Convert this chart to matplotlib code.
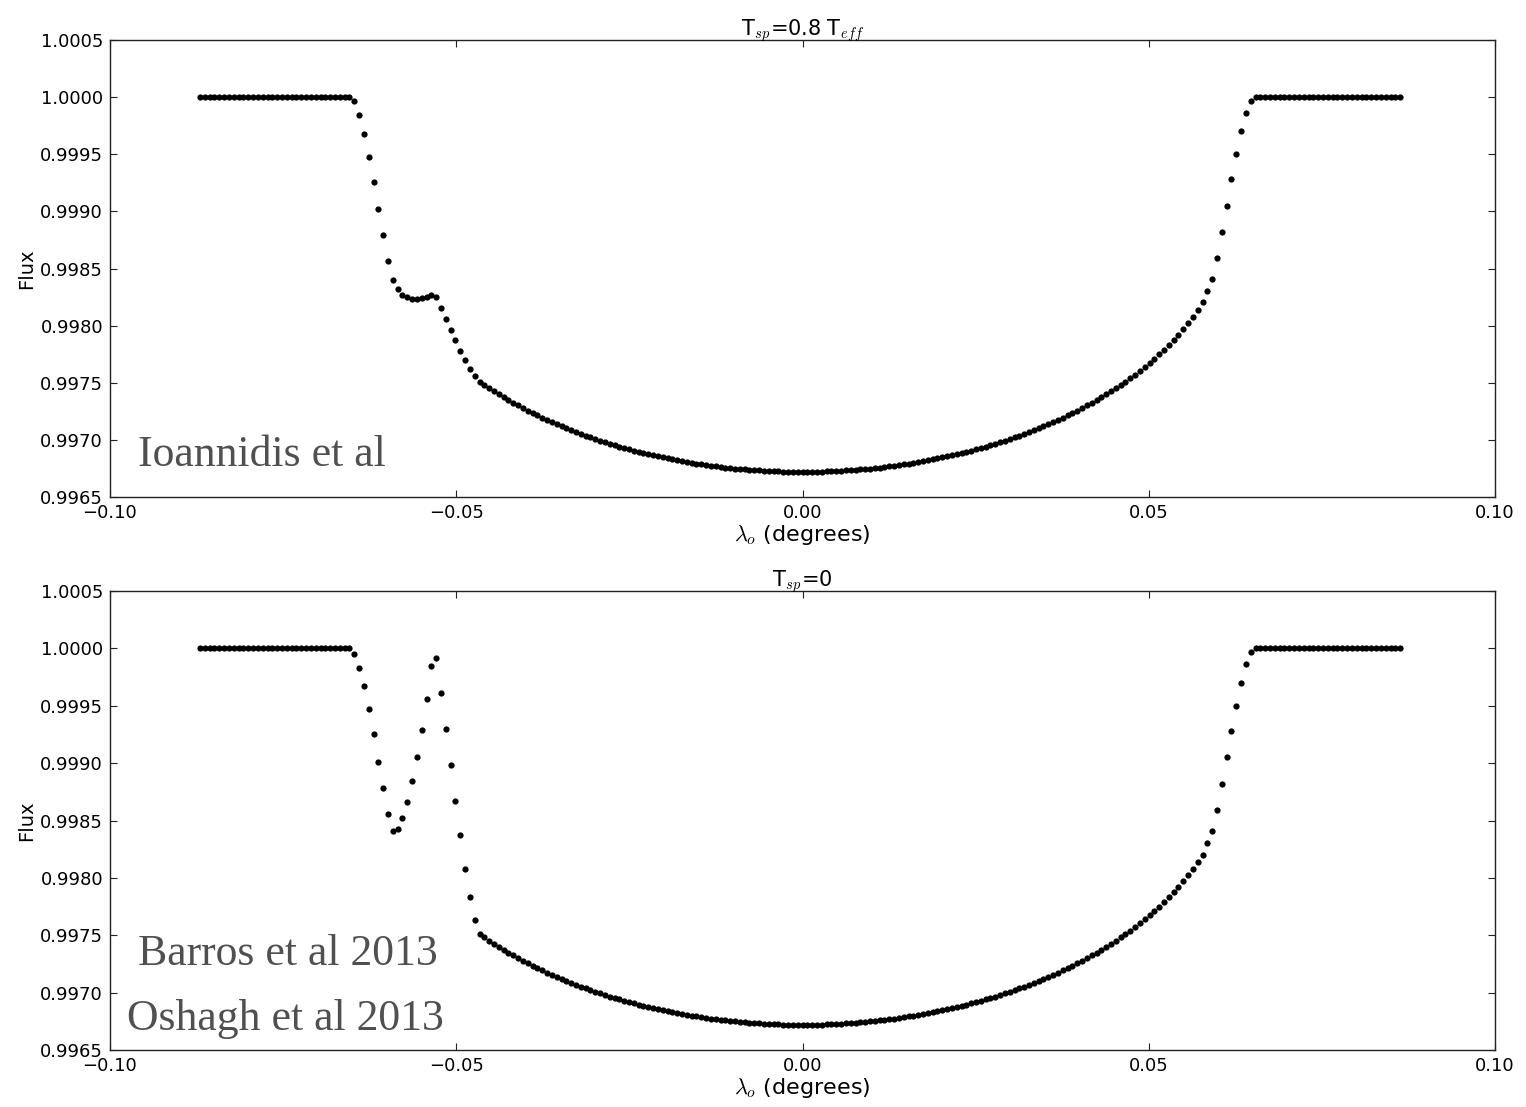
import numpy as np
import matplotlib
matplotlib.use("Agg")
import matplotlib.pyplot as plt
from matplotlib.ticker import FixedLocator, FuncFormatter

plt.rcParams["mathtext.fontset"] = "cm"
plt.rcParams["font.family"] = ["DejaVu Sans"]

# ---- data -------------------------------------------------------------
# Orbital longitude grid (degrees): start, step, number of samples
lam_start, lam_step, n_points = -0.0870, 0.000696, 250

# Flux before the transit
flat_before = [1.0, 1.0, 1.0, 1.0, 1.0, 1.0, 1.0, 1.0, 1.0, 1.0, 1.0, 1.0, 1.0, 1.0, 1.0, 1.0,
               1.0, 1.0, 1.0, 1.0, 1.0, 1.0, 1.0, 1.0, 1.0, 1.0, 1.0, 1.0, 1.0, 1.0, 1.0, 1.0]

# Flux after the transit
flat_after = [1.0, 1.0, 1.0, 1.0, 1.0, 1.0, 1.0, 1.0, 1.0, 1.0, 1.0, 1.0, 1.0, 1.0, 1.0, 1.0,
              1.0, 1.0, 1.0, 1.0, 1.0, 1.0, 1.0, 1.0, 1.0, 1.0, 1.0, 1.0, 1.0, 1.0, 1.0]

# Ingress including the spot crossing, T_sp = 0.8 T_eff
ingress_warm_spot = [0.99997, 0.99984, 0.99968, 0.99948, 0.99926, 0.99902, 0.99879, 0.99857, 0.99840,
                     0.99832, 0.99827, 0.99825, 0.99823, 0.99823, 0.99824, 0.99825, 0.99827, 0.99825,
                     0.99815, 0.99806, 0.99796, 0.99787, 0.99778, 0.99770, 0.99762, 0.99756, 0.99751]

# Ingress including the spot crossing, T_sp = 0
ingress_dark_spot = [0.99995, 0.99983, 0.99967, 0.99947, 0.99925, 0.99901, 0.99878, 0.99856, 0.99841,
                     0.99843, 0.99852, 0.99866, 0.99884, 0.99905, 0.99929, 0.99956, 0.99985, 0.99992,
                     0.99961, 0.99930, 0.99898, 0.99867, 0.99837, 0.99808, 0.99783, 0.99763, 0.99751]

# Unspotted transit bottom, from after the spot up to mid-transit
bowl_first_half = [0.997481, 0.997453, 0.997425, 0.997399, 0.997373, 0.997348, 0.997324, 0.997301,
                   0.997278, 0.997256, 0.997235, 0.997214, 0.997194, 0.997174, 0.997155, 0.997137,
                   0.997119, 0.997102, 0.997085, 0.997068, 0.997052, 0.997037, 0.997022, 0.997008,
                   0.996993, 0.996980, 0.996966, 0.996954, 0.996941, 0.996929, 0.996917, 0.996906,
                   0.996895, 0.996885, 0.996874, 0.996865, 0.996855, 0.996846, 0.996837, 0.996829,
                   0.996821, 0.996813, 0.996806, 0.996798, 0.996792, 0.996785, 0.996779, 0.996773,
                   0.996768, 0.996763, 0.996758, 0.996753, 0.996749, 0.996745, 0.996741, 0.996738,
                   0.996735, 0.996732, 0.996729, 0.996727, 0.996725, 0.996724, 0.996722, 0.996721,
                   0.996721, 0.996720, 0.996720]

# Second half of the transit through egress (no spot)
egress = [0.996720, 0.996721, 0.996721, 0.996722, 0.996724, 0.996725, 0.996727, 0.996729, 0.996732,
          0.996735, 0.996738, 0.996741, 0.996745, 0.996749, 0.996753, 0.996758, 0.996763, 0.996768,
          0.996773, 0.996779, 0.996785, 0.996792, 0.996798, 0.996806, 0.996813, 0.996821, 0.996829,
          0.996837, 0.996846, 0.996855, 0.996865, 0.996874, 0.996885, 0.996895, 0.996906, 0.996917,
          0.996929, 0.996941, 0.996954, 0.996966, 0.996980, 0.996993, 0.997008, 0.997022, 0.997037,
          0.997052, 0.997068, 0.997085, 0.997102, 0.997119, 0.997137, 0.997155, 0.997174, 0.997194,
          0.997214, 0.997235, 0.997256, 0.997278, 0.997301, 0.997324, 0.997348, 0.997373, 0.997399,
          0.997425, 0.997453, 0.997481, 0.997510, 0.997541, 0.997572, 0.997605, 0.997638, 0.997674,
          0.997710, 0.997748, 0.997788, 0.997830, 0.997874, 0.997921, 0.997970, 0.998022, 0.998078,
          0.998138, 0.998203, 0.998300, 0.998410, 0.998590, 0.998820, 0.999050, 0.999280, 0.999500,
          0.999700, 0.999860, 0.999970]

panel_titles = [r"T$_{sp}$=0.8 T$_{eff}$", r"T$_{sp}$=0"]
x_ticks = [-0.10, -0.05, 0.00, 0.05, 0.10]
y_ticks = [0.9965, 0.9970, 0.9975, 0.9980, 0.9985, 0.9990, 0.9995, 1.0000, 1.0005]
panel_notes = [["Ioannidis et al"], ["Barros et al 2013", "Oshagh et al 2013"]]

# ---- figure -----------------------------------------------------------
lam = lam_start + lam_step * np.arange(n_points)
flux_warm = np.array(flat_before + ingress_warm_spot + bowl_first_half + egress + flat_after)
flux_dark = np.array(flat_before + ingress_dark_spot + bowl_first_half + egress + flat_after)

fig = plt.figure(figsize=(15.26, 11.07), dpi=100)
ax_top = fig.add_axes([110 / 1526, 1 - 497 / 1107, 1385 / 1526, 457 / 1107])
ax_bot = fig.add_axes([110 / 1526, 1 - 1050 / 1107, 1385 / 1526, 459 / 1107])

minus = lambda fmt: FuncFormatter(lambda v, p: (fmt % v).replace("-", "\u2212"))

for ax, flux, title in zip([ax_top, ax_bot], [flux_warm, flux_dark], panel_titles):
    ax.plot(lam, flux, linestyle="none", marker="o", markersize=4.5,
            markerfacecolor="black", markeredgewidth=0)
    ax.set_xlim(-0.10, 0.10)
    ax.set_ylim(0.9965, 1.0005)
    ax.xaxis.set_major_locator(FixedLocator(x_ticks))
    ax.yaxis.set_major_locator(FixedLocator(y_ticks))
    ax.xaxis.set_major_formatter(minus("%.2f"))
    ax.yaxis.set_major_formatter(minus("%.4f"))
    ax.tick_params(direction="in", length=5, width=0.8, top=True, right=True,
                   labelsize=13, pad=5, colors="#222222")
    ax.tick_params(axis="x", labelcolor="black")
    ax.tick_params(axis="y", labelcolor="black")
    for s in ax.spines.values():
        s.set_linewidth(1.0)
        s.set_color("#222222")
    ax.set_xlabel(r"$\lambda_o$ (degrees)", fontsize=16, labelpad=1)
    ax.set_ylabel("Flux", fontsize=14, labelpad=3)
    ax.set_title(title, fontsize=15, pad=3)

note_style = dict(family="Liberation Serif", fontsize=31.5, color="#505050",
                  ha="left", va="baseline")
ax_top.text(0.0202, 0.068, panel_notes[0][0], transform=ax_top.transAxes, **note_style)
ax_bot.text(0.0202, 0.185, panel_notes[1][0], transform=ax_bot.transAxes, **note_style)
ax_bot.text(0.0123, 0.044, panel_notes[1][1], transform=ax_bot.transAxes, **note_style)

fig.savefig("out.png", dpi=100)
